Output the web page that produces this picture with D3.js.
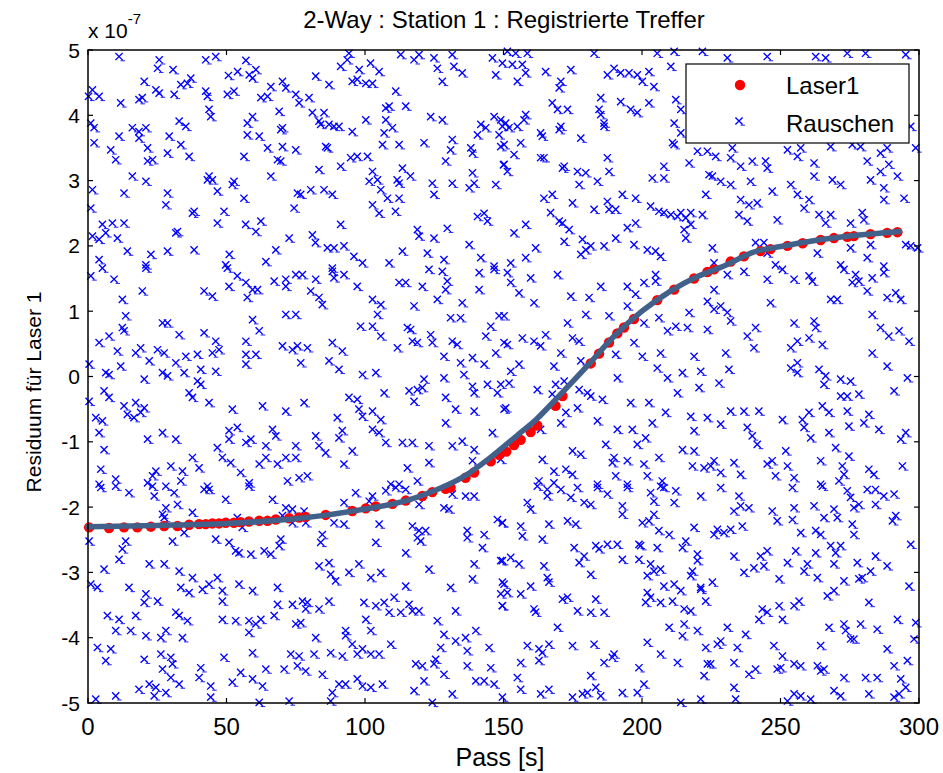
<!DOCTYPE html>
<html><head><meta charset="utf-8">
<script src="https://cdn.jsdelivr.net/npm/d3@7"></script>
<style>
html,body{margin:0;padding:0;background:#fff;}
svg{display:block;font-family:"Liberation Sans",Arial,Helvetica,sans-serif;}
</style></head>
<body><svg id="chart" width="943" height="773"></svg>
<script>
// ---- data (y values in units of 1e-7) ----
const xTicks = [0,50,100,150,200,250,300];
const yTicks = [-5,-4,-3,-2,-1,0,1,2,3,4,5];
const titleText = "2-Way : Station 1 : Registrierte Treffer";
const xLabel = "Pass [s]";
const yLabel = "Residuum für Laser 1";
const legendLabels = ["Laser1","Rauschen"];

// fitted curve
const fitT = [0,25,50,75,100,115,125,135,145,155,162,170,180,190,200,210,220,230,240,250,262,275,293];
const fitV = [-2.30,-2.28,-2.25,-2.18,-2.03,-1.90,-1.75,-1.55,-1.25,-0.90,-0.65,-0.30,0.15,0.62,1.00,1.30,1.53,1.70,1.90,1.99,2.08,2.15,2.22];

// Laser1 hits
const dotT = [0.4,7.6,13.0,17.8,22.7,27.5,32.3,36.5,40.1,42.5,44.9,47.3,49.7,52.7,55.1,58.1,61.8,64.8,67.8,72.6,76.2,78.6,85.8,95.4,100.3,103.9,109.9,114.7,120.7,124.3,129.1,130.9,136.3,139.4,145.4,148.4,151.0,153.8,156.2,159.8,162.2,168.8,171.3,181.5,184.5,188.1,191.1,193.5,197.1,205.5,211.6,218.8,223.6,226.0,232.0,236.8,242.8,246.4,252.5,258.0,264.5,269.3,274.1,276.5,282.5,288.5,292.2];
const dotV = [-2.31,-2.32,-2.31,-2.31,-2.30,-2.29,-2.29,-2.27,-2.26,-2.26,-2.25,-2.25,-2.24,-2.24,-2.23,-2.22,-2.21,-2.21,-2.19,-2.17,-2.16,-2.15,-2.12,-2.06,-2.02,-1.99,-1.95,-1.90,-1.83,-1.77,-1.72,-1.70,-1.55,-1.47,-1.30,-1.20,-1.15,-1.05,-0.97,-0.85,-0.75,-0.45,-0.30,0.20,0.35,0.52,0.66,0.75,0.88,1.17,1.33,1.50,1.60,1.64,1.76,1.84,1.92,1.95,2.00,2.04,2.09,2.12,2.14,2.15,2.18,2.20,2.21];

// noise hits [t, v]
const noise = [
[11.2,4.90],[25.7,4.85],[25.1,4.72],[30.7,4.70],[42.5,4.85],[46.1,4.90],[57.0,4.84],[58.2,4.62],[60.6,4.70],[50.7,4.61],[54.0,4.67],[59.4,4.57],[94.2,4.95],[93.6,4.85],[91.2,4.75],[97.9,4.70],[102.0,4.80],[105.1,4.67],[112.9,4.93],[117.7,4.85],[119.5,4.93],[124.9,4.88],[126.1,4.72],[131.5,4.93],[132.1,4.75],[135.1,4.65],[127.9,4.52],[146.0,4.88],[147.2,4.62],[149.6,4.80],
[20.3,4.52],[24.5,4.39],[25.7,4.34],[31.1,4.32],[33.5,4.47],[35.9,4.49],[37.1,4.57],[42.5,4.37],[43.1,4.29],[50.3,4.32],[52.7,4.37],[1.6,4.39],[4.0,4.29],[0.2,4.29],[11.8,4.19],[18.4,4.24],[19.6,4.27],[66.0,4.44],[70.2,4.52],[71.4,4.42],[62.4,4.27],[64.8,4.29],[75.0,4.32],[76.2,4.19],[79.8,4.27],[82.2,4.60],[87.0,4.47],[95.4,4.52],[97.2,4.55],[100.3,4.49],[102.7,4.49],[111.1,4.37],[107.5,4.11],[108.7,4.14],[114.7,4.14],
[43.7,4.09],[44.3,3.98],[59.4,3.98],[57.5,3.88],[69.0,4.06],[69.6,3.78],[70.2,3.81],[81.0,4.04],[85.2,4.04],[83.4,3.91],[84.0,3.86],[87.0,3.86],[88.8,3.83],[90.6,3.83],[95.4,3.75],[100.3,3.93],[107.5,3.93],[106.9,3.73],[109.9,3.81],[123.7,3.98],[127.9,3.93],[141.8,3.86],[143.6,3.81],[146.6,3.98],[149.0,3.93],[149.6,3.83],[1.0,3.88],[2.2,3.81],[16.0,3.81],[20.9,3.81],[18.4,3.75],[11.2,3.68],[18.4,3.65],[29.3,3.68],[32.9,3.91],[35.3,3.83],
[2.2,3.58],[8.2,3.47],[10.0,3.32],[21.5,3.50],[21.5,3.30],[23.3,3.32],[28.7,3.42],[33.5,3.55],[36.5,3.37],[57.5,3.70],[61.8,3.68],[56.3,3.37],[64.8,3.50],[70.2,3.52],[75.0,3.47],[68.4,3.32],[69.6,3.30],[85.8,3.52],[86.4,3.50],[94.8,3.35],[97.2,3.37],[100.9,3.37],[106.3,3.55],[112.3,3.55],[121.3,3.58],[131.5,3.63],[130.9,3.47],[129.1,3.30],[138.2,3.50],[138.8,3.42],[140.6,3.70],[148.4,3.70],[149.0,3.52],
[16.0,3.07],[20.9,2.99],[13.0,2.81],[1.6,2.86],[1.0,2.58],[28.7,2.81],[28.1,2.63],[43.7,3.07],[44.9,3.01],[43.1,3.01],[46.7,2.84],[52.1,2.94],[52.7,2.99],[56.3,2.73],[66.0,3.07],[75.6,2.81],[76.8,2.79],[80.4,2.86],[85.2,2.86],[88.2,2.79],[74.4,2.58],[83.4,3.17],[91.2,3.22],[102.7,3.14],[101.5,2.99],[104.5,3.01],[105.7,2.86],[108.1,2.73],[112.3,2.73],[113.5,3.19],[111.6,3.01],[112.3,2.96],[116.4,3.07],[124.3,2.96],[124.9,2.79],[131.5,2.96],[138.8,3.12],[139.4,2.96],[137.6,2.89],[147.2,2.94],[102.7,2.63],[105.1,2.50],[111.0,2.53],[150.0,3.24],
[38.3,2.53],[37.7,2.50],[49.1,2.53],[46.7,2.35],[56.9,2.33],[60.6,2.22],[62.4,2.38],[31.7,2.20],[32.3,2.22],[5.2,2.33],[8.8,2.35],[13.0,2.35],[1.6,2.15],[4.0,2.10],[6.4,2.20],[10.6,2.12],[14.2,1.92],[22.7,1.87],[20.9,1.71],[28.7,1.92],[38.3,1.94],[51.0,1.87],[49.7,1.71],[64.2,1.76],[67.8,1.94],[72.6,2.12],[81.0,2.17],[82.1,2.05],[86.4,1.97],[88.8,1.97],[92.4,2.00],[96.0,1.84],[99.1,1.74],[91.2,2.33],[108.7,1.74],[113.5,1.92],[118.9,2.25],[119.5,2.15],[124.9,2.12],[129.7,2.27],[122.5,1.89],[128.5,1.79],[137.6,2.02],[141.8,1.82],[140.6,2.45],[143.0,2.50],[144.2,2.38],[146.6,1.69],[4.0,1.79],[88.2,1.66],
[151.4,4.98],[154.4,4.95],[158.6,4.95],[182.7,4.95],[205.5,4.95],[211.6,4.98],[221.8,4.98],[230.8,4.88],[245.2,4.90],[262.7,4.90],[266.3,4.88],[274.1,4.95],[280.7,4.95],[295.2,4.93],[153.2,4.78],[156.8,4.78],[158.0,4.65],[155.0,4.52],[165.2,4.67],[174.3,4.70],[170.7,4.52],[170.1,4.42],[187.5,4.62],[189.9,4.72],[192.3,4.65],[195.3,4.65],[198.3,4.62],[200.1,4.52],[202.5,4.67],[204.3,4.44],[210.4,4.75],
[167.6,4.19],[169.5,4.09],[173.1,4.09],[185.1,4.27],[184.5,4.09],[185.1,4.01],[192.3,4.21],[195.9,4.09],[198.3,4.04],[202.5,4.19],[212.2,4.24],[214.0,4.09],[158.0,4.01],[150.8,3.88],[152.0,3.81],[155.0,3.83],[157.4,3.93],[163.4,3.73],[164.0,3.68],[170.7,3.83],[170.1,3.78],[177.9,3.65],[186.3,3.88],[186.3,3.83],[211.6,3.88],[214.0,3.73],[211.0,3.58],[211.6,3.55],
[150.2,3.55],[153.8,3.40],[156.2,3.58],[163.4,3.35],[164.6,3.35],[150.2,3.25],[151.4,3.14],[171.9,3.22],[171.3,3.19],[176.7,3.14],[179.7,3.12],[177.3,2.94],[183.9,2.99],[187.5,3.35],[188.1,3.14],[203.7,3.04],[207.9,3.22],[207.9,3.04],[217.0,3.27],[220.0,3.45],[223.6,3.45],[226.6,3.37],[224.2,3.09],[225.4,3.07],[232.0,3.35],[232.6,3.50],[235.6,3.22],[239.8,3.30],[244.6,3.30],[245.2,3.19],[223.0,2.79],[228.4,2.99],[232.0,2.94],[239.2,2.99],[247.0,2.84],[235.6,2.71],[238.6,2.63],[241.6,2.66],[252.5,3.47],[256.1,3.37],[257.3,3.50],[262.1,3.27],[268.1,3.52],[275.9,3.55],[278.9,3.52],[281.3,3.30],[286.1,3.42],[289.1,3.25],[286.1,3.14],[292.2,3.07],[298.8,3.50],[288.5,3.50],[297.0,3.83],
[253.7,2.94],[256.1,2.79],[260.3,2.71],[262.1,3.07],[268.7,3.01],[271.7,2.94],[287.3,2.89],[287.3,2.71],[294.6,2.73],[282.5,3.01],
[164.6,2.73],[167.6,2.79],[174.9,2.66],[182.7,2.56],[187.5,2.68],[188.1,2.56],[190.5,2.56],[192.9,2.79],[197.7,2.73],[203.1,2.61],[206.1,2.53],[207.9,2.51],[210.4,2.48],[212.8,2.45],[214.0,2.51],[215.8,2.43],[217.6,2.51],[221.8,2.48],[235.0,2.48],[238.0,2.38],[248.8,2.40],[258.5,2.58],[263.9,2.48],[268.1,2.48],[266.3,2.35],[275.3,2.35],[279.5,2.51],[280.1,2.40],
[167.0,2.51],[170.1,2.38],[171.3,2.35],[173.7,2.25],[153.8,2.20],[158.0,2.33],[171.9,2.07],[178.5,2.10],[179.7,1.94],[177.9,1.87],[181.5,2.00],[186.3,2.00],[190.5,2.12],[194.7,2.28],[197.7,2.35],[197.1,2.02],[201.9,1.94],[204.9,1.92],[206.7,1.84],[215.2,2.25],[215.8,2.12],[217.6,2.33],[225.4,1.97],[152.6,1.74],[158.0,1.82],[161.6,1.97],[226.0,1.74],[241.0,2.05],[244.0,2.05],[245.2,1.89],[248.2,1.71],[275.3,1.97],[281.3,1.82],[282.5,2.02],[287.3,1.69],[295.2,2.02],[297.0,2.00],[299.5,1.97],[263.3,1.89],[271.7,1.71],
[1.0,1.54],[5.2,1.66],[9.4,1.49],[12.4,1.18],[19.6,1.31],[20.9,1.66],[13.6,0.93],[12.4,0.75],[13.0,0.70],[26.9,0.82],[28.7,0.82],[50.3,1.66],[41.9,1.31],[44.9,1.23],[53.9,1.54],[57.0,1.44],[50.9,1.38],[59.4,1.33],[61.2,1.33],[57.5,1.21],[67.2,1.46],[71.4,1.49],[71.4,1.38],[75.0,1.56],[77.4,1.56],[82.2,1.49],[80.4,1.31],[83.4,1.21],[84.6,1.10],[88.2,1.61],[88.8,1.51],[92.4,1.56],[97.2,1.38],[112.3,1.44],[114.7,1.44],[120.7,1.38],[123.1,1.64],[127.9,1.61],[129.7,1.46],[129.1,1.33],[126.1,1.18],[135.1,1.13],[141.2,1.59],[141.2,1.33],[146.6,1.64],[102.7,1.18],[105.7,1.10],[104.5,0.95],[117.7,1.08],[71.4,0.95],[75.0,0.95],[59.4,0.87],[61.8,0.70],[98.4,0.77],[102.7,0.77],[105.7,0.62],[115.3,0.75],[116.5,0.72],[130.9,0.90],[134.5,0.90],[148.4,0.93],[145.4,0.77],[143.6,0.62],[123.7,0.64],[124.3,0.52],[117.1,0.54],[118.9,0.52],[131.5,0.54],[133.3,0.49],[111.7,0.44],[128.5,0.31],[134.5,0.21],[138.8,0.29],[143.0,0.19],[147.2,0.36],[150.2,0.52],
[4.0,0.52],[7.6,0.62],[10.6,0.39],[17.2,0.36],[19.0,0.44],[22.1,0.24],[25.1,0.41],[27.5,0.36],[32.9,0.64],[31.7,0.21],[35.3,0.31],[39.5,0.34],[41.9,0.67],[46.1,0.54],[44.9,0.36],[47.3,0.41],[57.0,0.54],[57.0,0.34],[60.6,0.34],[57.0,0.19],[70.2,0.47],[73.8,0.41],[75.6,0.47],[76.8,0.21],[79.2,0.44],[88.2,0.52],[91.8,0.39],[87.0,0.24],[90.6,0.11],[0.4,0.19],[6.4,0.06],[7.6,0.03],[11.8,0.16],[20.3,-0.04],[26.9,0.06],[28.7,0.01],[34.7,0.06],[39.5,-0.07],[40.7,0.11],[46.1,0.08],[40.7,-0.12],[36.5,-0.25],[37.7,-0.32],[5.8,-0.22],[7.6,-0.32],[0.4,-0.38],[13.0,-0.45],[14.2,-0.58],[17.2,-0.40],[19.0,-0.55],[16.6,-0.63],[2.8,-0.63],[5.2,-0.68],[4.0,-0.86],[20.3,-0.48],
[43.7,-0.40],[52.1,-0.50],[63.0,-0.45],[71.4,-0.53],[78.0,-0.40],[94.2,-0.32],[97.2,-0.35],[97.8,-0.50],[99.1,-0.61],[102.7,-0.53],[105.7,-0.66],[99.1,0.03],[103.9,0.06],[106.9,-0.25],[115.9,-0.22],[118.9,-0.20],[121.3,-0.04],[120.7,-0.17],[117.7,-0.38],[128.5,-0.02],[129.1,-0.32],[132.7,-0.50],[129.1,-0.71],[139.4,-0.53],[135.7,0.03],[138.8,-0.15],[139.4,-0.25],[144.2,-0.12],[147.8,-0.25],[150.2,-0.50],[146.0,-0.86],
[90.0,-0.63],[91.8,-0.83],[90.6,-0.94],[82.2,-0.91],[83.4,-1.06],[85.8,-1.17],[95.4,-1.14],[102.7,-0.81],[105.1,-0.86],[107.5,-1.01],[113.5,-1.01],[117.1,-1.01],[123.1,-1.06],[131.5,-1.06],[135.1,-0.99],[139.4,-1.12],[21.5,-0.96],[26.9,-0.86],[31.7,-0.96],[50.9,-0.83],[53.9,-0.78],[50.9,-0.96],[57.0,-1.01],[58.8,-0.96],[66.6,-0.81],[67.8,-0.91],[64.2,-1.06],[75.0,-1.06],[5.8,-1.12],[46.7,-1.09],[48.5,-1.24],[51.5,-1.32],[61.8,-1.34],[64.2,-1.24],[68.4,-1.34],[71.4,-1.24],[75.0,-1.24],[37.7,-1.24],[40.1,-1.40],[29.9,-1.37],[34.1,-1.45],[33.5,-1.60],[24.5,-1.45],[23.3,-1.52],[21.5,-1.63],[4.6,-1.42],[10.0,-1.57],[4.0,-1.65],[55.1,-1.47],[58.2,-1.63],[43.1,-1.68],[72.0,-1.60],[76.2,-1.55],[79.2,-1.52],[92.4,-1.34],[115.3,-1.40],[123.1,-1.32],[118.9,-1.60],[109.3,-1.65],[112.3,-1.65],[138.8,-1.29],
[151.4,1.59],[152.6,1.44],[155.6,1.28],[159.8,1.51],[161.0,1.13],[169.5,1.56],[174.3,1.23],[180.9,1.21],[185.1,1.38],[194.7,1.38],[197.7,1.26],[200.7,1.44],[204.9,1.56],[204.9,1.46],[194.7,1.08],[179.7,0.95],[188.1,0.93],[150.2,0.93],[173.1,0.82],[200.7,0.82],[206.1,0.90],[209.2,0.70],[212.2,0.77],[216.4,0.75],[217.0,0.98],[223.6,0.72],[226.0,1.33],[223.6,1.15],[226.0,1.03],[228.4,1.08],[230.8,0.98],[232.0,0.85],[236.8,1.61],[230.8,1.56],[245.2,1.49],[246.4,1.13],[250.7,1.64],[254.9,1.49],[260.3,1.54],[261.5,1.46],[272.9,1.64],[277.1,1.56],[278.3,1.46],[281.3,1.31],[283.1,1.51],[287.3,1.59],[288.5,1.21],[291.6,1.28],[293.4,1.18],[268.1,1.18],[270.5,1.18],[275.9,1.44],
[156.8,0.59],[161.0,0.54],[163.4,0.47],[165.2,0.64],[174.9,0.59],[177.3,0.54],[151.4,0.49],[170.7,0.36],[177.9,0.24],[168.2,0.16],[152.6,0.08],[155.6,0.19],[152.0,-0.10],[149.0,-0.12],[162.2,-0.20],[167.6,-0.27],[168.8,-0.12],[171.9,-0.07],[177.3,-0.20],[180.3,-0.25],[181.5,-0.30],[185.7,-0.35],[176.7,-0.48],[170.7,-0.71],[172.5,-0.55],[150.8,-0.48],[163.4,-0.81],[183.9,-0.68],[191.1,-0.02],[197.1,0.52],[190.5,0.34],[200.1,0.31],[206.7,0.36],[205.5,0.13],[209.2,-0.02],[214.6,0.06],[221.2,0.08],[218.8,0.31],[212.8,-0.25],[220.6,-0.17],[227.8,-0.10],[231.4,0.11],[230.2,0.36],[238.0,0.62],[241.0,0.75],[240.4,0.44],[253.7,0.44],[256.1,0.54],[260.3,0.59],[262.1,0.85],[262.7,0.75],[265.1,0.49],[254.9,0.82],[253.7,0.13],[256.1,0.21],[256.1,0.06],[263.9,0.11],[266.3,0.01],[265.7,-0.12],[271.7,-0.04],[275.3,-0.07],[271.7,-0.30],[274.1,-0.30],[278.3,-0.27],[283.1,0.36],[288.5,0.16],[283.1,0.95],[286.1,0.75],[289.1,0.62],[292.8,0.70],[296.4,0.54],[295.8,-0.02],[291.0,-0.22],
[195.9,-0.40],[202.5,-0.40],[208.5,-0.55],[203.7,-0.71],[191.1,-0.81],[196.5,-0.81],[201.3,-0.94],[198.3,-1.04],[186.9,-1.04],[217.6,-0.61],[223.6,-0.63],[218.8,-0.83],[228.4,-0.73],[232.0,-0.53],[236.8,-0.53],[242.2,-0.53],[238.0,-0.78],[239.8,-0.91],[241.6,-1.04],[250.7,-0.66],[257.9,-0.66],[258.5,-0.78],[260.3,-0.55],[260.9,-0.94],[265.1,-0.45],[267.5,-0.55],[267.5,-0.86],[274.1,-0.53],[274.7,-0.76],[280.1,-0.71],[281.9,-0.58],[285.5,-0.81],[269.9,-1.09],[274.7,-1.22],[293.4,-0.96],[295.2,-0.86],[294.0,-1.37],[281.9,-1.42],[283.7,-1.50],[272.3,-1.37],[272.9,-1.50],[264.5,-1.29],[251.9,-1.14],[252.5,-1.37],[254.9,-1.55],[247.0,-1.29],[248.2,-1.52],[245.2,-1.34],[233.2,-1.32],[235.6,-1.50],[226.0,-1.29],[224.8,-1.37],[228.4,-1.47],[218.8,-1.14],[218.2,-1.37],[222.4,-1.40],[214.6,-1.12],[206.1,-1.24],[200.7,-1.34],[201.9,-1.52],[194.7,-1.29],[189.9,-1.24],[189.3,-1.32],[190.5,-1.52],[194.7,-1.65],[207.3,-1.60],[206.7,-1.68],[183.9,-1.65],[174.9,-1.14],[177.9,-1.19],[164.0,-1.27],[168.2,-1.45],[172.5,-1.42],[174.9,-1.50],[162.8,-1.60],[168.2,-1.63],[149.0,-1.27],[264.5,-1.65],[271.1,-1.60],
[4.6,-1.70],[10.0,-1.68],[14.8,-1.78],[23.3,-1.68],[23.9,-1.83],[28.1,-1.68],[31.1,-1.78],[41.9,-1.73],[43.7,-1.73],[49.7,-1.88],[58.1,-1.68],[66.6,-1.88],[71.4,-2.01],[73.8,-2.03],[78.0,-2.06],[70.2,-2.13],[92.4,-1.93],[96.6,-1.78],[101.5,-1.91],[102.7,-1.83],[107.5,-1.75],[111.1,-1.70],[114.7,-1.73],[119.5,-1.96],[131.5,-1.80],[136.3,-1.83],[139.4,-1.83],[128.5,-2.01],[130.3,-2.03],[28.1,-2.01],[26.9,-2.11],[32.3,-1.96],[37.7,-2.08],[27.5,-2.16],[53.9,-2.16],[55.7,-2.31],[73.8,-2.24],[78.6,-2.24],[88.8,-2.24],[92.4,-2.26],[105.1,-2.26],[117.1,-2.29],[119.5,-2.36],[121.9,-2.36],[136.9,-2.36],[143.0,-2.42],[147.8,-2.19],[149.6,-2.24],[0.4,-2.52],[13.6,-2.52],[12.4,-2.64],[11.2,-2.80],[30.5,-2.52],[34.7,-2.39],[46.1,-2.49],[50.9,-2.54],[53.3,-2.67],[54.5,-2.70],[58.8,-2.72],[63.6,-2.67],[66.0,-2.72],[69.6,-2.49],[69.0,-2.59],[84.6,-2.42],[84.0,-2.54],[103.9,-2.54],[114.7,-2.70],[118.9,-2.47],[120.1,-2.52],[142.4,-2.62],[136.9,-2.47],
[5.8,-2.95],[22.1,-2.87],[27.5,-2.87],[32.9,-2.98],[37.7,-3.08],[46.7,-3.08],[43.7,-3.18],[48.5,-3.28],[48.5,-3.44],[41.3,-3.26],[33.5,-3.23],[36.5,-3.31],[1.0,-3.18],[3.4,-3.23],[14.8,-3.23],[20.9,-3.33],[20.3,-3.46],[25.1,-3.44],[54.5,-3.18],[59.4,-3.28],[68.4,-3.23],[68.4,-3.49],[73.8,-3.49],[77.4,-3.44],[79.2,-3.46],[78.6,-3.56],[83.4,-3.56],[87.0,-3.44],[83.4,-2.90],[87.0,-2.85],[87.6,-3.03],[89.4,-3.13],[94.2,-3.00],[97.8,-2.87],[102.1,-3.08],[105.7,-3.00],[114.7,-3.21],[123.1,-2.95],[130.9,-3.23],[138.8,-3.10],[139.4,-2.87],[149.6,-2.82],[149.6,-3.15],[149.0,-3.33],[149.6,-3.51],[99.6,-3.46],[103.9,-3.51],[106.9,-3.46],[110.5,-3.38],[108.7,-3.61],[112.9,-3.61],[115.9,-3.49],[117.1,-3.59],[119.5,-3.59],[132.7,-3.59],[126.1,-3.74],[7.0,-3.66],[11.2,-3.72],[17.2,-3.66],[10.0,-3.89],[15.4,-3.89],[20.9,-3.97],[26.3,-4.00],[28.1,-3.89],[34.1,-4.00],[31.7,-3.61],[32.9,-3.66],[35.9,-3.74],[48.5,-3.72],[53.3,-3.74],[58.1,-3.74],[60.6,-3.79],[62.4,-3.72],[67.2,-3.66],[58.1,-3.92],[75.0,-3.79],[76.8,-3.77],[82.2,-4.00],[93.0,-3.89],[93.0,-3.97],[100.3,-3.72],[102.1,-3.89],[95.4,-4.10],[99.1,-4.17],[97.2,-4.25],[102.1,-4.25],[105.1,-4.25],[109.3,-4.10],[128.5,-3.95],[132.7,-4.05],[136.3,-4.00],[140.0,-3.89],[136.9,-4.20],[144.8,-4.15],
[3.4,-4.15],[8.2,-4.17],[6.4,-4.35],[20.3,-4.33],[26.3,-4.25],[29.9,-4.30],[30.5,-4.40],[26.9,-4.48],[29.9,-4.61],[32.9,-4.71],[40.7,-4.46],[40.1,-4.61],[44.3,-4.74],[49.1,-4.30],[59.4,-4.23],[55.1,-4.53],[52.1,-4.68],[59.4,-4.63],[63.0,-4.74],[64.2,-4.48],[70.8,-4.48],[73.2,-4.25],[76.2,-4.28],[75.6,-4.43],[78.6,-4.51],[81.6,-4.25],[84.6,-4.56],[87.6,-4.23],[91.8,-4.28],[90.6,-4.71],[93.0,-4.71],[97.2,-4.63],[88.2,-4.84],[87.6,-4.97],[99.1,-4.74],[102.1,-4.76],[106.3,-4.71],[118.3,-4.40],[120.7,-4.43],[125.5,-4.33],[127.3,-4.15],[124.9,-4.40],[128.5,-4.56],[121.3,-4.66],[117.7,-4.81],[136.9,-4.43],[140.0,-4.66],[143.0,-4.66],[145.4,-4.46],[146.6,-4.71],[131.5,-4.86],[124.3,-4.99],[149.6,-4.91],[61.8,-4.99],[44.3,-4.91],[72.6,-4.97],[2.8,-4.94],[10.0,-4.89],[18.4,-4.79],[22.1,-4.71],[24.5,-4.76],[23.9,-4.89],[28.1,-4.84],
[162.2,-1.68],[165.8,-1.73],[165.8,-1.83],[170.7,-1.73],[174.3,-1.85],[176.7,-1.70],[179.1,-1.93],[181.5,-1.96],[183.9,-1.70],[187.5,-1.80],[194.7,-1.70],[203.1,-1.78],[204.3,-1.91],[207.9,-1.70],[212.2,-1.75],[211.6,-1.93],[221.2,-1.83],[228.4,-1.70],[235.0,-1.83],[233.2,-2.06],[235.6,-1.98],[238.6,-2.01],[247.0,-2.06],[248.8,-2.21],[254.9,-2.01],[254.3,-2.19],[254.3,-1.70],[265.1,-1.68],[262.1,-1.98],[265.7,-2.16],[269.3,-2.03],[270.5,-2.16],[274.1,-1.75],[275.3,-1.85],[276.5,-2.01],[278.3,-1.96],[281.3,-1.73],[284.3,-1.73],[287.3,-1.83],[291.0,-1.80],[284.3,-1.96],[290.4,-2.21],[291.6,-2.13],[275.9,-2.26],[276.5,-2.42],[158.6,-1.93],[159.8,-2.03],[192.9,-1.98],[192.9,-2.11],[204.3,-2.11],[200.1,-2.24],[202.5,-2.21],[206.1,-2.36],[209.8,-2.42],[218.8,-2.31],[226.0,-2.42],[227.2,-2.34],[229.6,-2.39],[232.0,-2.34],[236.2,-2.29],[257.3,-2.39],[262.7,-2.36],[264.5,-2.42],[149.6,-2.24],[156.2,-2.29],[156.8,-2.44],[164.0,-2.49],[166.4,-2.26],[173.1,-2.21],[176.1,-2.26],
[175.5,-2.62],[179.1,-2.75],[177.3,-2.85],[183.3,-2.59],[184.5,-2.64],[187.5,-2.57],[191.1,-2.57],[198.9,-2.57],[199.5,-2.59],[205.5,-2.62],[192.9,-2.80],[198.9,-2.80],[203.1,-2.87],[206.7,-2.95],[204.3,-2.98],[201.9,-3.05],[214.6,-2.62],[215.8,-2.52],[220.0,-2.72],[220.0,-2.82],[218.2,-2.98],[217.6,-3.05],[221.2,-3.23],[225.4,-3.15],[233.2,-2.75],[236.8,-3.00],[240.4,-2.93],[244.0,-2.90],[245.2,-2.67],[242.8,-2.75],[249.5,-3.10],[252.5,-2.85],[255.5,-2.67],[259.7,-2.87],[262.7,-2.70],[258.5,-2.98],[263.3,-3.08],[268.1,-2.59],[269.9,-2.70],[271.7,-2.59],[269.3,-2.87],[277.7,-2.85],[282.5,-2.98],[284.3,-2.75],[288.5,-2.90],[272.9,-3.13],[278.3,-3.10],[279.5,-3.08],[269.3,-3.28],[266.9,-3.36],[296.4,-3.21],[297.0,-2.57],[149.0,-2.82],[152.6,-2.77],[155.6,-2.87],[164.6,-2.90],[165.8,-3.08],[166.4,-3.15],[150.2,-3.18],[156.2,-3.33],[159.8,-3.21],[151.4,-3.31],[149.6,-3.51],[161.0,-3.56],[161.6,-3.61],[171.3,-3.41],[173.1,-3.38],[176.7,-3.59],[181.5,-3.61],[183.3,-3.41],[186.3,-3.61],[181.5,-3.03],
[201.9,-3.31],[203.1,-3.38],[201.3,-3.46],[206.7,-3.46],[207.9,-3.21],[211.6,-3.18],[211.0,-3.44],[214.0,-3.28],[215.2,-3.56],[217.6,-3.59],[221.2,-3.26],[223.0,-3.44],[243.4,-3.56],[242.2,-3.72],[245.2,-3.61],[249.5,-3.51],[250.7,-3.72],[254.9,-3.51],[256.7,-3.44],[281.9,-3.46],[292.2,-3.72],[298.8,-3.77],[169.5,-3.84],[209.8,-3.84],[215.2,-3.79],[214.6,-3.97],[220.0,-3.89],[230.8,-3.84],[237.4,-3.95],[267.5,-3.84],[272.9,-3.79],[273.5,-3.89],[278.9,-3.79],[284.9,-3.87],[276.5,-4.02],[275.3,-4.02],[298.2,-4.02],[288.5,-4.17],[158.6,-4.12],[162.8,-4.17],[166.4,-4.10],[164.0,-4.23],[162.8,-4.35],[174.9,-4.12],[182.7,-4.10],[189.9,-4.25],[189.3,-4.30],[186.3,-4.38],[201.9,-4.07],[206.7,-4.25],[212.8,-4.38],[223.0,-4.15],[228.4,-4.05],[227.2,-4.10],[234.4,-4.15],[233.2,-4.38],[223.6,-4.40],[224.8,-4.40],[222.4,-4.58],[238.6,-4.56],[241.0,-4.48],[247.6,-4.12],[250.7,-4.28],[248.8,-4.48],[250.1,-4.46],[254.9,-4.40],[257.3,-4.43],[263.3,-4.43],[264.5,-4.51],[265.7,-4.48],[264.5,-4.12],[272.9,-4.61],[280.7,-4.61],[284.9,-4.61],[291.0,-4.43],[295.8,-4.35],[293.4,-4.63],[295.2,-4.76],[292.8,-4.86],[291.0,-4.91],[269.3,-4.81],[271.7,-4.89],[281.9,-4.86],[156.2,-4.38],[155.0,-4.61],[156.2,-4.79],[163.4,-4.86],[166.4,-4.79],[174.9,-4.91],[178.5,-4.86],[180.3,-4.84],[183.3,-4.76],[185.1,-4.89],[192.9,-4.84],[198.3,-4.84],[200.7,-4.71],[198.9,-4.46],[181.5,-4.58],[233.2,-4.76],[233.8,-4.94],[221.2,-4.94],[214.0,-4.99],[252.5,-4.97],[254.9,-4.86],[257.3,-4.89],[260.9,-4.94]
];

// ---- layout ----
const svg = d3.select("#chart");
const x = d3.scaleLinear().domain([0,300]).range([88,919]);
const y = d3.scaleLinear().domain([-5,5]).range([703,50]);
const blue = "#0000ff", red = "#ff0000", lineCol = "#41618a";

function xMarker(g){
  g.append("path").attr("d","M-3.6,-3.6L3.6,3.6M-3.6,3.6L3.6,-3.6").attr("stroke",blue).attr("stroke-width",1.35).attr("fill","none");
  g.append("path").attr("d","M1.5,4.2H6").attr("stroke",blue).attr("stroke-width",1.1).attr("opacity",0.8);
}

// noise markers
const ng = svg.append("g");
ng.selectAll("g").data(noise).enter().append("g")
  .attr("transform",d=>`translate(${x(d[0])},${y(d[1])})`)
  .each(function(){ xMarker(d3.select(this)); });

// laser dots
svg.append("g").selectAll("circle").data(dotT).enter().append("circle")
  .attr("cx",d=>x(d)).attr("cy",(d,i)=>y(dotV[i])).attr("r",5.2).attr("fill",red);

// fit line
const line = d3.line().x(d=>x(d[0])).y(d=>y(d[1])).curve(d3.curveMonotoneX);
svg.append("path").datum(fitT.map((t,i)=>[t,fitV[i]]))
  .attr("d",line).attr("fill","none").attr("stroke",lineCol).attr("stroke-width",5.5).attr("stroke-linecap","round");

// axes box
const [x0,x1] = x.range(), [y0,y1] = [y(-5),y(5)];
svg.append("rect").attr("x",x0).attr("y",y1).attr("width",x1-x0).attr("height",y0-y1)
  .attr("fill","none").attr("stroke","#000").attr("stroke-width",1.5);

// ticks (inward, all four sides)
const tk = 5;
const tg = svg.append("g").attr("stroke","#000").attr("stroke-width",1.2);
xTicks.forEach(t=>{
  tg.append("line").attr("x1",x(t)).attr("x2",x(t)).attr("y1",y0).attr("y2",y0-tk);
  tg.append("line").attr("x1",x(t)).attr("x2",x(t)).attr("y1",y1).attr("y2",y1+tk);
});
yTicks.forEach(v=>{
  tg.append("line").attr("x1",x0).attr("x2",x0+tk).attr("y1",y(v)).attr("y2",y(v));
  tg.append("line").attr("x1",x1).attr("x2",x1-tk).attr("y1",y(v)).attr("y2",y(v));
});

// tick labels
svg.append("g").selectAll("text").data(xTicks).enter().append("text")
  .attr("x",d=>x(d)).attr("y",735).attr("text-anchor","middle")
  .attr("font-size",24).text(d=>d);
svg.append("g").selectAll("text").data(yTicks).enter().append("text")
  .attr("x",80).attr("y",d=>y(d)+7.5).attr("text-anchor","end")
  .attr("font-size",21).text(d=>d<0?"-"+Math.abs(d):d);

// exponent
const ex = svg.append("text").attr("x",88).attr("y",38).attr("font-size",21);
ex.append("tspan").text("x 10");
ex.append("tspan").attr("dy",-14).attr("font-size",15).text("-7");

// title & labels
svg.append("text").attr("x",504).attr("y",28).attr("text-anchor","middle").attr("font-size",24).text(titleText);
svg.append("text").attr("x",500).attr("y",766).attr("text-anchor","middle").attr("font-size",25).text(xLabel);
svg.append("text").attr("transform","translate(41,392) rotate(-90)").attr("text-anchor","middle").attr("font-size",21).text(yLabel);

// legend
const lg = svg.append("g");
lg.append("rect").attr("x",686).attr("y",64).attr("width",223).attr("height",79)
  .attr("fill","#fff").attr("stroke","#000").attr("stroke-width",1.2);
lg.append("circle").attr("cx",740).attr("cy",85).attr("r",5.2).attr("fill",red);
const lm = lg.append("g").attr("transform","translate(739,121)");
xMarker(lm);
lg.append("text").attr("x",786).attr("y",94).attr("font-size",24).text(legendLabels[0]);
lg.append("text").attr("x",786).attr("y",132).attr("font-size",24).text(legendLabels[1]);
</script></body></html>
